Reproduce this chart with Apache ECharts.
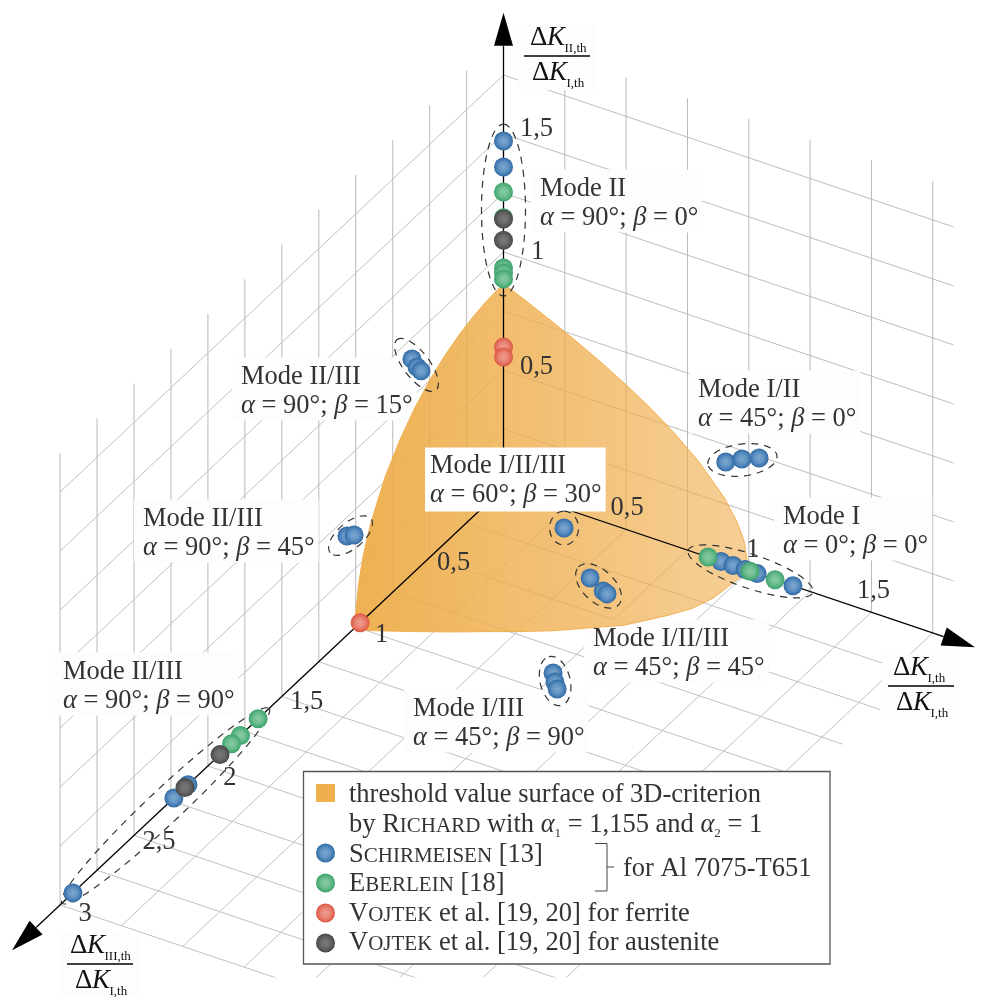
<!DOCTYPE html>
<html>
<head>
<meta charset="utf-8">
<style>html,body{margin:0;padding:0;background:#fff}#main{width:988px;height:997px}</style>
<script src="https://cdn.jsdelivr.net/npm/echarts@6/dist/echarts.min.js"></script>
</head>
<body>
<div id="main"></div>
<script>
// all points are [KI, KII, KIII] ratios
var schirmeisen = [
  [0, 1.47, 0], [0, 1.36, 0],
  [0.906, 0.428, 0], [0.972, 0.464, 0], [1.042, 0.493, 0],
  [0, 0.911, 0.619], [0, 0.857, 0.585], [0, 0.825, 0.558],
  [0, 0.42, 1.059], [0, 0.396, 1.011],
  [0.5, 0.253, 0.42],
  [0.6, 0.071, 0.41], [0.66, 0.043, 0.421], [0.68, 0.042, 0.428],
  [0.739, 0, 0.891], [0.773, 0, 0.935], [0.802, 0, 0.968],
  [0.887, 0, 0], [0.936, 0, 0], [0.985, 0, 0], [1.034, 0, 0], [1.18, 0, 0],
  [0, 0, 2.135], [0, 0, 2.23], [0, 0, 2.913]
];
var eberlein = [
  [0, 1.254, 0], [0, 1.145, 0], [0, 0.932, 0], [0, 0.911, 0], [0, 0.886, 0],
  [0.834, 0, 0], [1.005, 0, 0], [1.107, 0, 0],
  [0, 0, 1.66], [0, 0, 1.78], [0, 0, 1.84]
];
var vojtekFerrite = [[0, 0.597, 0], [0, 0.555, 0], [0, 0, 0.97]];
var vojtekAustenite = [[0, 1.14, 0], [0, 1.05, 0], [0, 0, 1.918], [0, 0, 2.155]];

// threshold surface edges
var edgeI = [0, 0.05, 0.1, 0.2, 0.3, 0.4, 0.5, 0.6, 0.7, 0.8, 0.9, 0.95, 0.98, 1];
var edgeIvsII = [0.866, 0.844, 0.821, 0.774, 0.724, 0.671, 0.612, 0.548, 0.474, 0.387, 0.274, 0.194, 0.122, 0];
var edgeIvsIII = [1.01, 0.995, 0.969, 0.914, 0.857, 0.795, 0.735, 0.67, 0.59, 0.51, 0.38, 0.3, 0.21, 0];
var edgeIII = [1.01, 0.98, 0.95, 0.9, 0.8, 0.7, 0.6, 0.5, 0.4, 0.3, 0.2, 0.1, 0];
var edgeIIIvsII = [0, 0.172, 0.27, 0.377, 0.52, 0.618, 0.693, 0.75, 0.794, 0.826, 0.848, 0.861, 0.866];

// ticks
var gridI = [0.25, 0.5, 0.75, 1, 1.25, 1.5, 1.75];
var gridII = [0.25, 0.5, 0.75, 1, 1.25, 1.5, 1.75];
var gridIII = [0.25, 0.5, 0.75, 1, 1.25, 1.5, 1.75, 2, 2.25, 2.5, 2.75, 3];
var ticksI = [0.5, 1, 1.5];
var ticksII = [0.5, 1, 1.5];
var ticksIII = [0.5, 1, 1.5, 2, 2.5, 3];
var tickNames = {0.5: '0,5', 1: '1', 1.5: '1,5', 2: '2', 2.5: '2,5', 3: '3'};
var limI = 1.835, limII = 1.915, limIII = 3;
var axisEnds = [[1.922, 0, 0], [0, 2.014, 0], [0, 0, 3.325]];

// dashed rings: first and last point of each cluster
var ringEnds = [
  [[0, 1.47, 0], [0, 0.886, 0]],
  [[0, 0.911, 0.619], [0, 0.825, 0.558]],
  [[0, 0.42, 1.059], [0, 0.396, 1.011]],
  [[0.906, 0.428, 0], [1.042, 0.493, 0]],
  [[0.5, 0.253, 0.42], [0.5, 0.253, 0.42]],
  [[0.6, 0.071, 0.41], [0.68, 0.042, 0.428]],
  [[0.739, 0, 0.891], [0.802, 0, 0.968]],
  [[0.834, 0, 0], [1.18, 0, 0]],
  [[0, 0, 1.66], [0, 0, 2.913]]
];
var ringPad = [17, 24.5, 23, 18, 17, 16, 17, 21, 15];
var ringHalf = [22, 13, 13, 16, 14.5, 16, 15, 17, 17];
var ringTurn = [null, null, -40, null, 90, null, null, null, null];

var FONT = '"Liberation Serif", "Times New Roman", serif';
var INK = '#333';

// oblique view of the three axes
function project(p) {
  return [
    503.5 + 245.3 * p[0] - 147.8 * p[2],
    488 + 82.8 * p[0] - 236 * p[1] + 139 * p[2]
  ];
}

function gridSeries(name, segments, color, width) {
  var data = [];
  segments.forEach(function (s) {
    data.push(project(s[0]), project(s[1]), [NaN, NaN]);
  });
  return {
    name: name, type: 'line', data: data, symbol: 'none', silent: true, z: 1,
    animation: false, connectNulls: false,
    lineStyle: {color: color, width: width}
  };
}

function sphere(stops) {
  return new echarts.graphic.RadialGradient(0.5, 0.5, 0.5, [
    {offset: 0, color: stops[0]},
    {offset: 0.5, color: stops[1]},
    {offset: 0.85, color: stops[2]},
    {offset: 1, color: stops[3]}
  ]);
}
var blueBall = ['#7DA7CE', '#6294C4', '#3F78B0', '#2F679F'];
var greenBall = ['#8CCAA6', '#6FBE92', '#4BAB76', '#3DA16A'];
var redBall = ['#EE9E90', '#E98575', '#E06553', '#D9563F'];
var grayBall = ['#7A7A7A', '#6A6A6A', '#525252', '#464646'];

function pointSeries(name, points, stops) {
  return {
    name: name, type: 'scatter', data: points.map(project), symbol: 'circle',
    symbolSize: 19, z: 5, silent: true, animation: false,
    itemStyle: {color: sphere(stops), opacity: 1}
  };
}

function tickSeries(name, values, toPoint, offsets) {
  return {
    name: name, type: 'scatter', symbolSize: 0, z: 6, silent: true, animation: false,
    itemStyle: {opacity: 1},
    data: values.map(function (v, i) {
      return {value: project(toPoint(v)), label: {offset: offsets[i]}};
    }),
    label: {
      show: true, position: 'inside', fontFamily: FONT, fontSize: 26.5, color: INK,
      textBorderWidth: 0, textBorderColor: 'transparent',
      formatter: function (p) { return tickNames[values[p.dataIndex]]; }
    }
  };
}

// surface polygon
var surface = [];
edgeI.forEach(function (v, i) { surface.push([v, edgeIvsII[i], 0]); });
edgeI.slice().reverse().forEach(function (v, i) {
  surface.push([v, 0, edgeIvsIII[edgeI.length - 1 - i]]);
});
edgeIII.forEach(function (v, i) { surface.push([0, edgeIIIvsII[i], v]); });

var segRightV = gridI.map(function (v) { return [[v, 0, 0], [v, limII, 0]]; });
var segRightH = gridII.map(function (v) { return [[0, v, 0], [limI, v, 0]]; });
var segLeftV = gridIII.map(function (v) { return [[0, 0, v], [0, limII, v]]; });
var segLeftH = gridII.map(function (v) { return [[0, v, 0], [0, v, limIII]]; });
var segFloorA = gridI.map(function (v) { return [[v, 0, 0], [v, 0, limIII]]; });
var segFloorB = gridIII.map(function (v) { return [[0, 0, v], [limI, 0, v]]; });

// ---- text helpers, graphic layer ----
var modeRich = {
  t: {fontFamily: FONT, fontSize: 26.5, lineHeight: 29, fill: INK},
  i: {fontFamily: FONT, fontSize: 26.5, lineHeight: 29, fontStyle: 'italic', fill: INK}
};
// plain boxes only hide the grid, the central one sits on top of the surface too
function modeLabel(x, base, mode, a, b, opaque) {
  var pad = opaque ? [3.5, 4, 2.5, 5] : [4.5, 4, 0.5, 9];
  return {
    type: 'text', z: opaque ? 3.5 : 1.5, x: x - pad[3], y: base - 23.4 - pad[0] + 2.5, silent: true,
    style: {
      text: '{t|' + mode + '}\n{i|α}{t| = ' + a + '°; }{i|β}{t| = ' + b + '°}',
      rich: modeRich, padding: pad, backgroundColor: opaque ? '#fff' : '#fdfdfd',
      verticalAlign: 'top', align: 'left'
    }
  };
}

function plain(x, base, str, size, italic, color) {
  return {
    type: 'text', z: 102, x: x, y: base - 0.3375 * size + 2, silent: true,
    style: {
      text: str, fontFamily: FONT, fontSize: size, fontStyle: italic ? 'italic' : 'normal',
      fill: color || '#111', verticalAlign: 'middle', align: 'left'
    }
  };
}

function deltaK(x, base, sub) {
  var kx = x + 17;
  return [
    plain(x, base, 'Δ', 27),
    plain(kx, base, 'K', 27, true),
    plain(kx + 17.5, base + 6, sub, 13)
  ];
}

function fraction(left, barY, width, topX, topSub, botX, botSub) {
  return [
    {type: 'rect', z: 1.5, silent: true, shape: {x: left - 6, y: barY - 32, width: width + 12, height: 66}, style: {fill: '#fdfdfd'}},
    {type: 'rect', z: 102, silent: true, shape: {x: left, y: barY - 0.7, width: width, height: 1.5}, style: {fill: '#000'}}
  ].concat(deltaK(topX, barY - 11, topSub), deltaK(botX, barY + 24, botSub));
}

var legendRich = {
  t: {fontFamily: FONT, fontSize: 26.5, lineHeight: 30, fill: INK},
  c: {fontFamily: FONT, fontSize: 21, lineHeight: 30, height: 26.3, verticalAlign: 'bottom', fill: INK},
  i: {fontFamily: FONT, fontSize: 26.5, lineHeight: 30, fontStyle: 'italic', fill: INK},
  s: {fontFamily: FONT, fontSize: 13, lineHeight: 30, height: 12, verticalAlign: 'bottom', fill: INK}
};
function legendLine(x, base, str) {
  return {
    type: 'text', z: 102, x: x, y: base - 21.94, silent: true,
    style: {text: str, rich: legendRich, verticalAlign: 'top', align: 'left'}
  };
}
function legendBall(y, stops) {
  return {
    type: 'circle', z: 102, silent: true, shape: {cx: 325.5, cy: y, r: 9.5},
    style: {fill: sphere(stops)}
  };
}

var legendText = [
  [802, '{t|threshold value surface of 3D-criterion}'],
  [832, '{t|by R}{c|ICHARD}{t| with }{i|α}{s|1}{t| = 1,155 and }{i|α}{s|2}{t| = 1}'],
  [862, '{t|S}{c|CHIRMEISEN}{t| [13]}'],
  [891, '{t|E}{c|BERLEIN}{t| [18]}'],
  [921, '{t|V}{c|OJTEK}{t| et al. [19, 20] for ferrite}'],
  [950, '{t|V}{c|OJTEK}{t| et al. [19, 20] for austenite}']
];

var graphicItems = [
  modeLabel(540, 195, 'Mode II', 90, 0),
  modeLabel(241, 383, 'Mode II/III', 90, 15),
  modeLabel(430, 472, 'Mode I/II/III', 60, 30, true),
  modeLabel(698, 396, 'Mode I/II', 45, 0),
  modeLabel(783, 523, 'Mode I', 0, 0),
  modeLabel(143, 525, 'Mode II/III', 90, 45),
  modeLabel(593, 645, 'Mode I/II/III', 45, 45),
  modeLabel(413, 715, 'Mode I/III', 45, 90),
  modeLabel(63, 678, 'Mode II/III', 90, 90),
  // legend frame
  {type: 'rect', z: 101, silent: true, shape: {x: 303.5, y: 771.5, width: 526.5, height: 192.5},
    style: {fill: '#fff', stroke: '#555', lineWidth: 1.3}},
  {type: 'rect', z: 102, silent: true, shape: {x: 316, y: 784, width: 19, height: 18}, style: {fill: '#EFAF4D'}},
  legendBall(853, blueBall),
  legendBall(883, greenBall),
  legendBall(913, redBall),
  legendBall(943, grayBall),
  {type: 'polyline', z: 102, silent: true, shape: {points: [[595, 843.5], [607, 843.5], [607, 891], [595, 891]]},
    style: {fill: null, stroke: '#444', lineWidth: 1}},
  {type: 'line', z: 102, silent: true, shape: {x1: 607, y1: 867, x2: 614, y2: 867}, style: {stroke: '#444', lineWidth: 1}},
  legendLine(623, 876, '{t|for Al 7075-T651}')
];
legendText.forEach(function (row) { graphicItems.push(legendLine(349, row[0], row[1])); });
graphicItems = graphicItems.concat(
  fraction(524, 56, 66, 530, 'II,th', 532, 'I,th'),
  fraction(888, 686, 66, 893, 'I,th', 896, 'I,th'),
  fraction(67, 964, 66, 70, 'III,th', 75, 'I,th')
);

var chart = echarts.init(document.getElementById('main'), null, {renderer: 'canvas'});
chart.setOption({
  animation: false,
  backgroundColor: '#fff',
  grid: {left: 0, right: 0, top: 0, height: 977},
  xAxis: {type: 'value', min: 0, max: 988, show: false},
  yAxis: {type: 'value', min: 0, max: 977, inverse: true, show: false},
  graphic: {elements: graphicItems},
  series: [
    gridSeries('right wall verticals', segRightV, '#b9b9b9', 1),
    gridSeries('right wall rows', segRightH, '#bdbdbd', 1),
    gridSeries('left wall verticals', segLeftV, '#c8c8c8', 1.3),
    gridSeries('left wall rows', segLeftH, '#c0c0c0', 1),
    gridSeries('floor lines', segFloorA, '#c0c0c0', 1),
    gridSeries('floor rows', segFloorB, '#c0c0c0', 1),
    {
      name: 'threshold value surface', type: 'custom', z: 2, silent: true,
      data: [0],
      renderItem: function (params, api) {
        return {
          type: 'polygon',
          shape: {points: surface.map(function (p) { return api.coord(project(p)); })},
          style: {
            fill: new echarts.graphic.LinearGradient(0, 0, 1, 0, [
              {offset: 0, color: 'rgba(237,172,72,0.94)'},
              {offset: 1, color: 'rgba(240,175,80,0.6)'}
            ]),
            stroke: '#F1B04E', lineWidth: 1
          }
        };
      }
    },
    {
      name: 'axes', type: 'custom', z: 3, silent: true,
      data: axisEnds.map(function (p, i) { return i; }),
      renderItem: function (params, api) {
        var a = api.coord(project([0, 0, 0]));
        var b = api.coord(project(axisEnds[params.dataIndex]));
        var dx = b[0] - a[0], dy = b[1] - a[1], len = Math.sqrt(dx * dx + dy * dy);
        var ux = dx / len, uy = dy / len;
        var bx = b[0] - ux * 33, by = b[1] - uy * 33;
        return {
          type: 'group',
          children: [
            {type: 'line', shape: {x1: a[0], y1: a[1], x2: bx, y2: by}, style: {stroke: '#000', lineWidth: 1.3}},
            {type: 'polygon', shape: {points: [b, [bx - uy * 9.5, by + ux * 9.5], [bx + uy * 9.5, by - ux * 9.5]]}, style: {fill: '#000'}}
          ]
        };
      }
    },
    {
      name: 'clusters', type: 'custom', z: 4, silent: true,
      data: ringEnds.map(function (r, i) { return i; }),
      renderItem: function (params, api) {
        var i = params.dataIndex;
        var a = api.coord(project(ringEnds[i][0]));
        var b = api.coord(project(ringEnds[i][1]));
        var dx = b[0] - a[0], dy = b[1] - a[1];
        var turn = ringTurn[i] !== null ? ringTurn[i] * Math.PI / 180 : Math.atan2(dy, dx);
        return {
          type: 'ellipse',
          x: (a[0] + b[0]) / 2, y: (a[1] + b[1]) / 2, rotation: -turn,
          shape: {cx: 0, cy: 0, rx: Math.sqrt(dx * dx + dy * dy) / 2 + ringPad[i], ry: ringHalf[i]},
          style: {fill: null, stroke: '#333', lineWidth: 1.2, lineDash: [7, 6]}
        };
      }
    },
    pointSeries('Schirmeisen [13]', schirmeisen, blueBall),
    pointSeries('Eberlein [18]', eberlein, greenBall),
    pointSeries('Vojtek et al. [19, 20] for ferrite', vojtekFerrite, redBall),
    pointSeries('Vojtek et al. [19, 20] for austenite', vojtekAustenite, grayBall),
    tickSeries('ticks I', ticksI, function (v) { return [v, 0, 0]; }, [[1, -21], [4, -21], [2, -21]]),
    tickSeries('ticks II', ticksII, function (v) { return [0, v, 0]; }, [[33, -3], [34, 0], [33, -5]]),
    tickSeries('ticks III', ticksIII, function (v) { return [0, 0, v]; }, [[24, 6], [26, 8], [25, 6], [22, 12], [25, 7], [25, 9]])
  ]
});
</script>
</body>
</html>
